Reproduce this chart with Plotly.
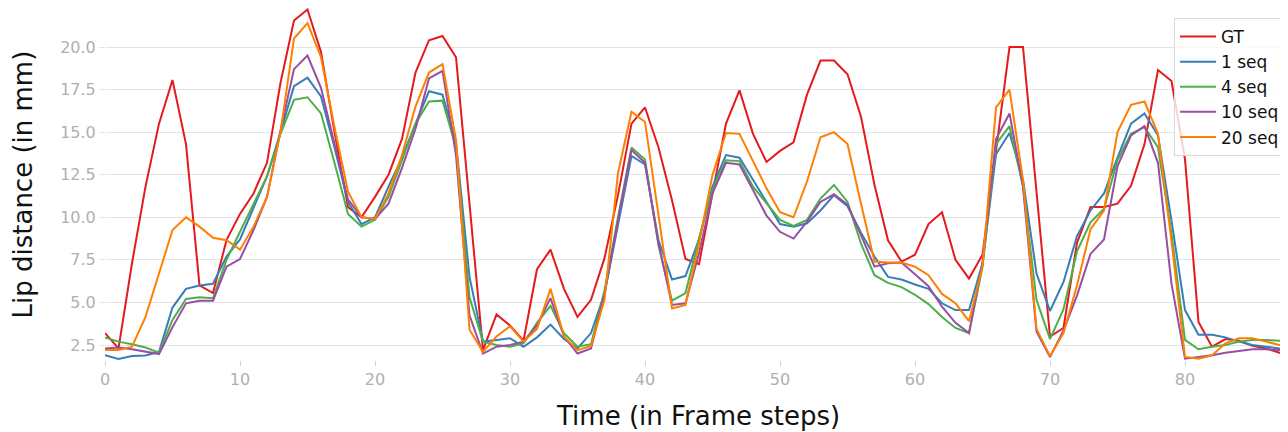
import plotly.graph_objects as go

frames = list(range(89))

gt = [3.2, 2.3, 7.3, 11.8, 15.5, 18.06, 14.3, 6.0, 5.55, 8.66,
      10.2, 11.4, 13.2, 17.9, 21.55, 22.2, 19.7, 15.0, 10.6, 10.0,
      11.2, 12.5, 14.6, 18.5, 20.4, 20.65, 19.4, 10.8, 2.2, 4.3,
      3.65, 2.75, 6.95, 8.1, 5.8, 4.15, 5.15, 7.6, 11.3, 15.5,
      16.45, 14.1, 11.0, 7.55, 7.25, 11.4, 15.5, 17.45, 14.9, 13.25,
      13.9, 14.4, 17.2, 19.2, 19.2, 18.4, 15.9, 11.9, 8.65, 7.4,
      7.8, 9.6, 10.3, 7.5, 6.4, 7.8, 13.9, 20.0, 20.0, 11.6,
      3.0, 3.5, 8.5, 10.6, 10.6, 10.8, 11.85, 14.3, 18.65, 18.0,
      13.4, 3.85, 2.4, 2.85, 2.75, 2.45, 2.3, 2.05, 1.95]

seq1 = [1.9, 1.68, 1.85, 1.88, 2.1, 4.7, 5.8, 6.0, 6.1, 7.7,
        8.7, 10.6, 12.4, 15.0, 17.7, 18.2, 17.1, 14.1, 10.9, 9.6,
        10.0, 11.8, 13.5, 15.5, 17.4, 17.2, 14.4, 6.5, 2.7, 2.8,
        2.9, 2.4, 2.95, 3.7, 2.85, 2.3, 3.2, 5.5, 9.65, 13.6,
        13.1, 8.65, 6.35, 6.55, 8.7, 11.8, 13.65, 13.5, 12.2, 10.9,
        9.6, 9.45, 9.65, 10.4, 11.3, 10.65, 9.1, 7.7, 6.5, 6.35,
        6.05, 5.8, 4.95, 4.55, 4.55, 7.3, 13.7, 14.95, 12.2, 6.7,
        4.5, 6.2, 8.9, 10.4, 11.4, 13.5, 15.5, 16.1, 14.8, 9.8,
        4.55, 3.1, 3.1, 2.95, 2.7, 2.5, 2.4, 2.3, 2.15]

seq4 = [2.95, 2.7, 2.55, 2.35, 2.05, 3.97, 5.2, 5.3, 5.25, 7.5,
        9.15, 10.8, 12.4, 14.9, 16.9, 17.05, 16.1, 13.2, 10.2, 9.45,
        9.85, 11.2, 13.35, 15.5, 16.8, 16.85, 14.1, 5.3, 2.7, 2.5,
        2.4, 2.6, 3.8, 4.8, 3.2, 2.4, 2.55, 5.7, 10.0, 14.1,
        13.4, 8.35, 5.1, 5.55, 8.75, 11.6, 13.35, 13.3, 11.8, 10.8,
        9.85, 9.5, 9.85, 11.1, 11.9, 10.9, 8.45, 6.6, 6.15, 5.9,
        5.45, 4.9, 4.15, 3.5, 3.2, 7.1, 14.3, 15.35, 11.8, 5.15,
        2.85, 4.6, 8.0, 9.7, 10.5, 13.35, 14.9, 15.3, 14.1, 9.05,
        2.8, 2.25, 2.4, 2.5, 2.7, 2.8, 2.8, 2.75, 2.7]

seq10 = [2.3, 2.35, 2.25, 2.1, 1.97, 3.55, 4.95, 5.1, 5.1, 7.1,
         7.55, 9.25, 11.2, 15.1, 18.7, 19.5, 17.6, 14.3, 11.05, 10.0,
         9.9, 10.8, 12.9, 15.2, 18.15, 18.6, 13.65, 4.25, 2.0, 2.4,
         2.5, 2.7, 3.65, 5.25, 3.0, 2.0, 2.3, 5.5, 9.85, 13.95,
         13.2, 8.45, 4.85, 4.95, 7.9, 11.4, 13.2, 13.1, 11.6, 10.1,
         9.15, 8.75, 9.75, 10.9, 11.35, 10.75, 8.95, 7.1, 7.3, 7.35,
         6.65, 5.95, 4.75, 3.8, 3.2, 7.3, 14.6, 16.1, 11.8, 3.3,
         1.8, 3.35, 5.4, 7.85, 8.7, 13.0, 14.8, 15.35, 13.2, 6.1,
         1.7, 1.8, 1.9, 2.05, 2.15, 2.25, 2.25, 2.2, 2.2]

seq20 = [2.2, 2.2, 2.4, 4.15, 6.7, 9.25, 10.0, 9.45, 8.8, 8.65,
         8.1, 9.45, 11.2, 15.0, 20.5, 21.4, 19.4, 15.3, 11.5, 10.0,
         9.9, 11.4, 13.65, 16.5, 18.5, 19.0, 14.55, 3.4, 2.1, 3.0,
         3.6, 2.7, 3.45, 5.8, 3.0, 2.2, 2.45, 5.15, 12.6, 16.2,
         15.6, 10.2, 4.65, 4.85, 8.45, 12.5, 14.95, 14.9, 13.25, 11.7,
         10.3, 10.0, 12.1, 14.7, 15.0, 14.3, 10.8, 7.4, 7.35, 7.35,
         7.1, 6.6, 5.5, 4.95, 3.9, 7.1, 16.45, 17.5, 12.2, 3.45,
         1.85, 3.2, 6.0, 9.3, 10.4, 15.0, 16.6, 16.8, 14.9, 8.6,
         1.8, 1.7, 1.9, 2.6, 2.9, 2.9, 2.7, 2.5, 2.4]

names = ["GT", "1 seq", "4 seq", "10 seq", "20 seq"]
colors = ["#e41a1c", "#377eb8", "#4daf4a", "#984ea3", "#ff7f00"]
series = [gt, seq1, seq4, seq10, seq20]

x_ticks = [0, 10, 20, 30, 40, 50, 60, 70, 80]
y_ticks = [2.5, 5.0, 7.5, 10.0, 12.5, 15.0, 17.5, 20.0]
y_tick_labels = ["2.5", "5.0", "7.5", "10.0", "12.5", "15.0", "17.5", "20.0"]

x_title = "Time (in Frame steps)"
y_title = "Lip distance (in mm)"

fig = go.Figure()
for name, col, ys in zip(names, colors, series):
    fig.add_trace(go.Scatter(x=frames, y=ys, mode="lines", name=name,
                             line=dict(color=col, width=2)))

font_family = "DejaVu Sans"
# the page places the plot 8px in from the top-left corner (body margin)
fig.update_layout(
    width=1280, height=424,
    margin=dict(l=97, r=0, t=0, b=72, autoexpand=False),
    paper_bgcolor="white", plot_bgcolor="white",
    font=dict(family=font_family),
    showlegend=True,
    legend=dict(x=0.9975, y=0.9716, xanchor="right", yanchor="top",
                bgcolor="rgba(255,255,255,0.8)", bordercolor="#d9d9d9",
                borderwidth=1, font=dict(size=17, color="#111111"),
                itemwidth=36),
    annotations=[
        dict(text=x_title, xref="paper", yref="paper", x=0.5015, y=-0.1605,
             xanchor="center", yanchor="middle", showarrow=False,
             font=dict(size=26, color="#111111", family=font_family)),
        dict(text=y_title, xref="paper", yref="paper", x=-0.0689, y=0.5,
             xanchor="center", yanchor="middle", showarrow=False, textangle=-90,
             font=dict(size=26, color="#111111", family=font_family)),
    ],
)
fig.update_xaxes(
    range=[0, 87.63], tickvals=x_ticks, showgrid=False, zeroline=False,
    showline=False, ticks="outside", ticklen=5, tickcolor="#d0d0d0",
    automargin=False,
    tickfont=dict(size=16, color="#b0b0b0", family=font_family),
)
fig.update_yaxes(
    range=[1.62, 22.29], tickvals=y_ticks, ticktext=y_tick_labels,
    showgrid=True, gridcolor="#e3e3e3", gridwidth=1, zeroline=False,
    showline=False, ticks="outside", ticklen=5, tickcolor="#e3e3e3",
    automargin=False,
    tickfont=dict(size=16, color="#b0b0b0", family=font_family),
)

fig.write_html("out.html")
